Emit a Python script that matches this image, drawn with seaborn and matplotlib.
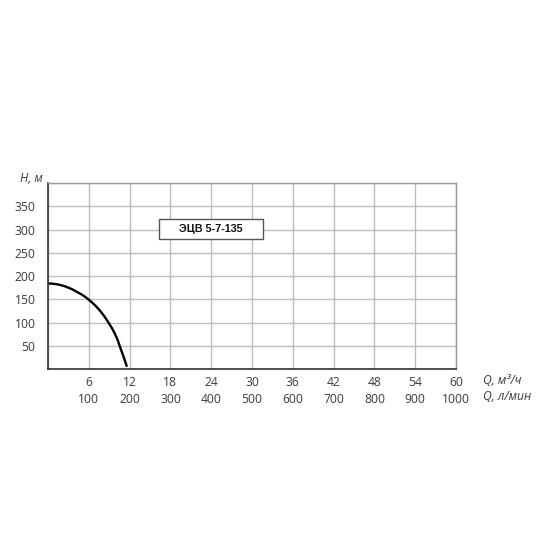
import matplotlib
matplotlib.use("Agg")
import matplotlib.pyplot as plt
from matplotlib.patches import Rectangle
import seaborn as sns
import pandas as pd

# curve
q_m3h = [0, 0.5, 1, 1.5, 2, 2.5, 3, 3.5, 4, 4.5, 5, 5.5, 6, 6.5, 7, 7.5, 8,
         8.4, 8.8, 9.4, 9.8, 10.2, 10.7, 11.1, 11.6]
h_m = [184, 184, 183, 182, 180, 178, 175, 172, 168, 164, 160, 155, 149, 143,
       136, 128, 119, 111, 102, 88, 77, 64, 43, 27, 5]

x_ticks = [6, 12, 18, 24, 30, 36, 42, 48, 54, 60]
x_ticks_lmin = [100, 200, 300, 400, 500, 600, 700, 800, 900, 1000]
y_ticks = [50, 100, 150, 200, 250, 300, 350]
model_name = "ЭЦВ 5-7-135"

sns.set_style("white")
plt.rcParams['font.family'] = ['Open Sans', 'DejaVu Sans']

fig = plt.figure(figsize=(5.5, 5.5), dpi=100)
ax = fig.add_axes([0.0873, 0.329, 0.742, 0.338])

df = pd.DataFrame({"Q": q_m3h, "H": h_m})
sns.lineplot(data=df, x="Q", y="H", ax=ax, color="black", linewidth=1.7,
             sort=False, solid_joinstyle="round", solid_capstyle="butt")

ax.set_xlim(0, 60)
ax.set_ylim(0, 400)
ax.set_xticks(x_ticks)
ax.set_xticklabels([f"{a}\n{b}" for a, b in zip(x_ticks, x_ticks_lmin)],
                   linespacing=1.45)
ax.set_yticks(y_ticks)
ax.set_xticks(range(0, 61, 6), minor=True)
ax.set_yticks(range(0, 401, 50), minor=True)
ax.grid(which="minor", color="#bdbdbd", linewidth=1)
ax.grid(which="major", color="#bdbdbd", linewidth=1)
ax.set_axisbelow(True)
ax.tick_params(axis="both", length=0, labelsize=8.7, colors="#3a3a3a")
ax.tick_params(axis="y", pad=9)
ax.tick_params(axis="x", pad=5)
ax.set_xlabel("")
ax.set_ylabel("")

for s in ["top", "right"]:
    ax.spines[s].set_color("#9a9a9a")
    ax.spines[s].set_linewidth(1)
for s in ["left", "bottom"]:
    ax.spines[s].set_color("#333333")
    ax.spines[s].set_linewidth(1.2)

# axis names
fig.text(20 / 550, 1 - 178 / 550, "H, м", fontsize=8.7, style="italic",
         color="#3a3a3a", ha="left", va="center")
fig.text(483 / 550, 1 - 381 / 550, "Q, м³/ч", fontsize=8.7, style="italic",
         color="#3a3a3a", ha="left", va="center")
fig.text(483 / 550, 1 - 397 / 550, "Q, л/мин", fontsize=8.7, style="italic",
         color="#3a3a3a", ha="left", va="center")

# model box
fig.add_artist(Rectangle((159 / 550, 1 - 239 / 550), 104 / 550, 20 / 550,
                         transform=fig.transFigure, facecolor="white",
                         edgecolor="#555555", linewidth=1, zorder=5))
fig.text(211 / 550, 1 - 229 / 550, model_name, fontsize=7.8, fontweight="bold",
         family=["Liberation Sans", "DejaVu Sans"], color="#111111",
         ha="center", va="center", zorder=6)

fig.savefig("out.png", dpi=100)
